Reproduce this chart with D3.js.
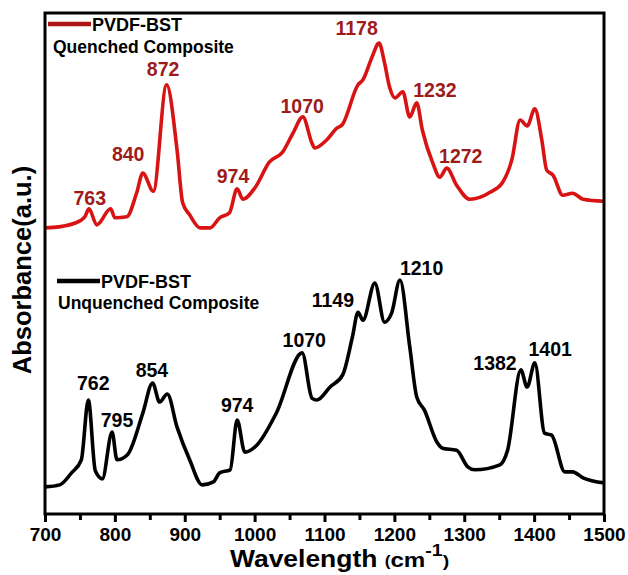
<!DOCTYPE html>
<html>
<head>
<meta charset="utf-8">
<script src="https://cdn.jsdelivr.net/npm/d3@7"></script>
<style>
  html, body { margin: 0; padding: 0; background: #fff; }
  text { font-family: "Liberation Sans", Arial, sans-serif; font-weight: bold; }
</style>
</head>
<body>
<svg id="chart" width="628" height="575"></svg>
<script>
// ---------- DATA ----------
// Quenched composite (red) : wavenumber (cm-1) and absorbance (a.u.)
const quenchedWavenumber = [700,720,750,757,763,774,794,800,817,831,840,855,874,889,897,907,922,936,950,964,975,983,1001,1021,1040,1055,1069,1082,1086,1103,1118,1125,1148,1155,1168,1178,1186,1193,1201,1212,1222,1232,1240,1255,1265,1275,1289,1308,1337,1355,1368,1380,1390,1401,1411,1418,1427,1441,1455,1470,1500];
const quenchedAbsorbance = [57.2,57.4,58.6,59.4,61.0,57.8,61.0,59.2,59.4,64.1,68.1,64.5,85.7,72.7,62.2,59.8,57.2,57.2,59.2,60.2,65.0,62.9,65.3,70.3,72.3,76.1,79.3,74.1,73.1,74.7,77.1,77.7,85.7,86.7,91.2,94.0,90.0,85.3,83.1,84.3,79.3,82.1,76.7,70.1,67.3,69.1,65.7,62.9,64.3,66.3,70.7,78.7,77.5,80.9,74.7,68.7,67.7,63.7,64.1,62.9,62.5];

// Unquenched composite (black)
const unquenchedWavenumber = [700,721,738,752,762,772,782,796,803,818,840,854,864,875,889,907,925,941,950,965,975,986,1003,1031,1068,1082,1089,1108,1126,1140,1148,1155,1172,1186,1196,1208,1222,1232,1243,1261,1269,1289,1305,1315,1351,1362,1381,1390,1401,1415,1425,1444,1455,1470,1500];
const unquenchedAbsorbance = [5.6,6.0,8.4,11.0,22.9,8.8,7.2,16.5,11.0,12.0,20.3,26.3,22.5,24.1,17.5,11.0,6.0,6.6,8.4,9.0,18.9,12.5,13.9,20.3,32.3,23.3,22.9,25.5,27.9,35.5,40.4,38.8,46.2,38.4,40.2,46.8,33.5,23.5,20.9,14.5,13.3,12.9,9.6,9.0,10.0,12.9,28.9,25.5,30.3,16.3,15.9,8.6,8.6,7.4,6.4];

// Peak labels (text, anchor wavenumber, anchor absorbance)
const quenchedPeakLabels = ["763","840","872","974","1070","1178","1232","1272"];
const quenchedLabelX = [764,819,869,969,1068,1146,1258,1295];
const quenchedLabelY = [61.8,70.5,87.5,66.1,80.1,95.6,83.3,70.1];

const unquenchedPeakLabels = ["762","795","854","974","1070","1149","1210","1382","1401"];
const unquenchedLabelX = [769,803,853,975,1071,1112,1239,1344,1423];
const unquenchedLabelY = [24.9,17.5,27.5,20.5,33.5,41.4,47.8,28.9,31.7];

const xTickValues = [700,800,900,1000,1100,1200,1300,1400,1500];
const xMinorTickValues = [750,850,950,1050,1150,1250,1350,1450];

const legendQuenched = ["PVDF-BST", "Quenched Composite"];
const legendUnquenched = ["PVDF-BST", "Unquenched Composite"];

// ---------- LAYOUT ----------
const svg = d3.select("#chart");
const mLeft = 45, mRight = 604, mTop = 13, mBottom = 514;
const RED = "#d81313", RED_LABEL = "#9e1b1b";

const x = d3.scaleLinear().domain([700, 1500]).range([mLeft, mRight]);
const y = d3.scaleLinear().domain([0, 100]).range([515, 13]);

const line = d3.line()
  .x(d => x(d[0]))
  .y(d => y(d[1]))
  .curve(d3.curveMonotoneX);

const quenched = d3.zip(quenchedWavenumber, quenchedAbsorbance);
const unquenched = d3.zip(unquenchedWavenumber, unquenchedAbsorbance);

svg.append("path").datum(quenched)
  .attr("d", line).attr("fill", "none")
  .attr("stroke", RED).attr("stroke-width", 3.6)
  .attr("stroke-linejoin", "round");

svg.append("path").datum(unquenched)
  .attr("d", line).attr("fill", "none")
  .attr("stroke", "#000").attr("stroke-width", 3.6)
  .attr("stroke-linejoin", "round");

// frame
svg.append("rect")
  .attr("x", mLeft).attr("y", mTop)
  .attr("width", mRight - mLeft).attr("height", mBottom - mTop)
  .attr("fill", "none").attr("stroke", "#000").attr("stroke-width", 3);

// x axis
const xAxis = d3.axisBottom(x).tickValues(xTickValues).tickSize(8).tickPadding(6).tickFormat(d3.format("d"));
const gx = svg.append("g").attr("transform", `translate(0,${mBottom})`).call(xAxis);
gx.select(".domain").remove();
gx.selectAll(".tick line").attr("stroke", "#000").attr("stroke-width", 3);
gx.selectAll(".tick text").attr("fill", "#000").style("font-size", "19px")
  .style("font-family", '"Liberation Sans", Arial, sans-serif').style("font-weight", "bold");

const gxm = svg.append("g").attr("transform", `translate(0,${mBottom})`)
  .call(d3.axisBottom(x).tickValues(xMinorTickValues).tickSize(6).tickFormat(""));
gxm.select(".domain").remove();
gxm.selectAll(".tick line").attr("stroke", "#000").attr("stroke-width", 3);

// axis titles
const xt = svg.append("text").attr("transform", "translate(230,567) scale(1.15,1)").attr("fill", "#000");
xt.append("tspan").style("font-size", "23px").text("Wavelength ");
xt.append("tspan").style("font-size", "15px").attr("dy", -1).text("(");
xt.append("tspan").style("font-size", "21px").attr("dy", 1).text("cm");
xt.append("tspan").style("font-size", "17px").attr("dy", -11).text("-1");
xt.append("tspan").style("font-size", "17px").attr("dy", 11).text(")");

svg.append("text")
  .attr("transform", "translate(31,270) rotate(-90)")
  .attr("text-anchor", "middle")
  .style("font-size", "25.5px")
  .attr("fill", "#000")
  .text("Absorbance(a.u.)");

// peak labels
svg.append("g").selectAll("text")
  .data(d3.zip(quenchedPeakLabels, quenchedLabelX, quenchedLabelY))
  .join("text")
  .attr("x", d => x(d[1])).attr("y", d => y(d[2]))
  .attr("text-anchor", "middle")
  .style("font-size", "19.5px")
  .attr("fill", RED_LABEL)
  .text(d => d[0]);

svg.append("g").selectAll("text")
  .data(d3.zip(unquenchedPeakLabels, unquenchedLabelX, unquenchedLabelY))
  .join("text")
  .attr("x", d => x(d[1])).attr("y", d => y(d[2]))
  .attr("text-anchor", "middle")
  .style("font-size", "19.5px")
  .attr("fill", "#000")
  .text(d => d[0]);

// legends
function legend(items, color, lx1, lx2, ly, y2, x2) {
  svg.append("line").attr("x1", lx1).attr("x2", lx2).attr("y1", ly).attr("y2", ly)
    .attr("stroke", color).attr("stroke-width", 4.5);
  svg.append("text").attr("x", lx2 + 1).attr("y", ly + 7).style("font-size", "18px")
    .attr("fill", "#000").text(items[0]);
  svg.append("text").attr("x", x2).attr("y", y2).style("font-size", "17.5px")
    .attr("fill", "#000").text(items[1]);
}
legend(legendQuenched, "#b01515", 48, 91, 24, 53, 53);
legend(legendUnquenched, "#000", 57, 100, 281, 309, 58);
</script>
</body>
</html>
